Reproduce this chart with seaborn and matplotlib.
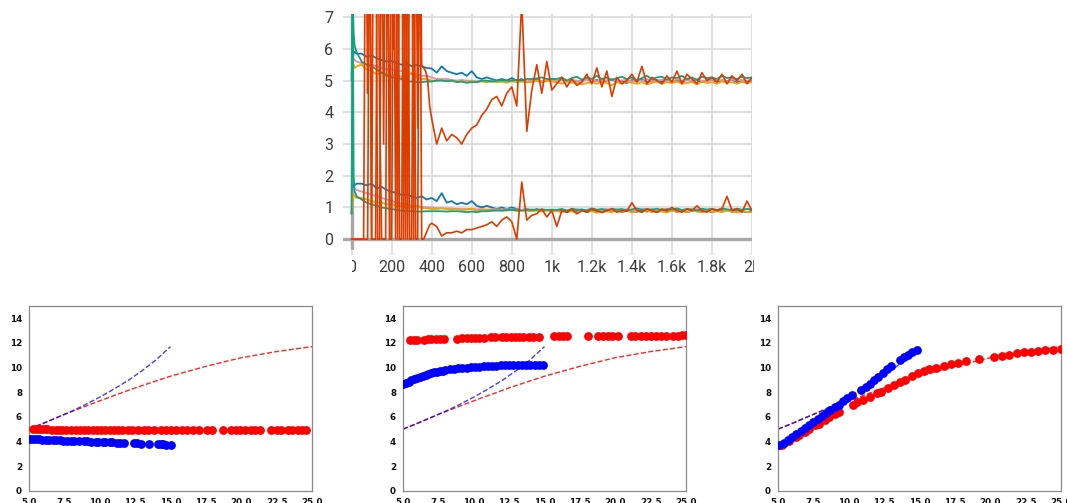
import matplotlib
matplotlib.use("Agg")
import matplotlib.pyplot as plt
import seaborn as sns
from matplotlib.transforms import Bbox, blended_transform_factory

# ---------------- top chart data (training curves) ----------------
steps_main = [0, 5, 10, 15] + list(range(25, 2001, 25))
steps_red = list(range(0, 401, 10)) + list(range(425, 2001, 25))

blue_up = [5.2, 5.6, 5.9, 5.9,
           5.85, 5.85, 5.75, 5.8, 5.7, 5.65, 5.6, 5.62, 5.55, 5.5, 5.55, 5.45, 5.5, 5.45, 5.4, 5.38,
           5.25, 5.45, 5.3, 5.25, 5.2, 5.25, 5.15, 5.3, 5.1, 5.05, 5.1, 5.05, 5.0, 5.05, 5.0, 5.08,
           5.0, 5.05, 4.95, 5.0, 5.05, 4.95, 5.0, 5.05,
           4.95, 5.05, 4.98, 5.02, 4.93, 5.0, 5.05, 4.97, 5.02, 4.95, 5.0, 5.04, 4.96, 5.0, 4.92, 5.02,
           4.98, 5.05, 4.95, 5.0, 5.02, 4.96, 5.03, 4.98, 5.0, 4.94, 5.05, 4.97, 5.02, 4.95, 5.0, 5.03,
           4.96, 5.0, 4.98, 5.04, 4.95, 5.02, 4.97, 5.0]
pink_up = [4.8, 5.5, 5.7, 5.65,
           5.6, 5.55, 5.5, 5.5, 5.45, 5.4, 5.35, 5.35, 5.3, 5.3, 5.25, 5.2, 5.2, 5.15, 5.15, 5.1,
           5.05, 5.05, 5.05, 5.02, 5.0, 5.02, 5.0, 5.0, 4.98, 5.0, 4.98, 5.0, 4.98, 5.0, 4.98, 5.0,
           4.98, 5.0, 4.97, 5.0, 5.0, 4.98, 5.0, 5.0,
           5.0, 5.03, 4.98, 5.02, 5.0, 4.97, 5.04, 5.0, 4.98, 5.02, 5.0, 5.05, 4.98, 5.0, 5.03, 4.97,
           5.02, 5.0, 5.05, 4.98, 5.0, 5.03, 5.0, 4.97, 5.04, 5.0, 5.02, 4.98, 5.05, 5.0, 4.98, 5.03,
           5.0, 5.02, 4.97, 5.04, 5.0, 5.02, 5.0, 5.03]
orange_up = [5.0, 5.3, 5.5, 5.4,
             5.45, 5.5, 5.35, 5.3, 5.2, 5.25, 5.2, 5.15, 5.2, 5.1, 5.15, 5.25, 5.1, 5.05, 5.05, 5.0,
             5.0, 5.02, 4.98, 5.0, 4.97, 4.98, 4.95, 4.98, 4.95, 4.97, 4.95, 4.97, 4.95, 4.97, 4.93, 4.98,
             4.95, 4.97, 4.95, 4.95, 5.0, 4.95, 5.0, 4.97,
             4.95, 4.9, 4.97, 4.93, 4.95, 4.88, 4.92, 4.95, 4.9, 4.97, 4.92, 4.85, 4.95, 4.9, 4.97, 4.93,
             4.9, 4.95, 4.88, 4.93, 4.97, 4.9, 4.95, 4.92, 4.97, 4.9, 4.93, 4.95, 4.88, 4.97, 4.92, 4.95,
             4.9, 4.97, 4.93, 4.95, 4.9, 4.96, 4.92, 4.95]
green_up = [5.0, 7.6, 6.5, 6.1,
            5.9, 5.6, 5.5, 5.45, 5.35, 5.25, 5.15, 5.1, 5.08, 5.05, 4.97, 4.97, 4.95, 4.95, 4.97, 4.97,
            5.0, 5.0, 4.98, 5.0, 4.95, 4.97, 4.93, 4.95, 4.95, 5.0, 5.0, 4.97, 5.0, 5.0, 5.0, 5.0,
            5.02, 5.0, 5.05, 5.05, 5.07, 5.1, 5.05, 5.05,
            5.05, 5.1, 5.0, 5.08, 5.12, 5.03, 5.1, 5.05, 5.15, 5.05, 5.1, 5.02, 5.08, 5.12, 5.05, 5.1,
            5.0, 5.08, 5.15, 5.05, 5.1, 5.12, 5.03, 5.1, 5.08, 5.15, 5.05, 5.1, 5.02, 5.12, 5.08, 5.1,
            5.05, 5.15, 5.08, 5.1, 5.05, 5.12, 5.08, 5.1]
red_up = [0, 0, 0, 0, 0, 0, 0,
          12, 4.6, 12, 0, 12, 12, 0, 0, 12, 3.0, 12, 12, 0, 12, 6.0, 12, 0, 12, 12, 0,
          12, 0, 12, 12, 0, 12, 3.5, 12, 5.5, 5.4, 5.3, 5.0, 4.2, 3.8,
          3.0, 3.5, 3.1, 3.3, 3.2, 3.0, 3.3, 3.5, 3.6, 3.9, 4.1, 4.4, 4.5, 4.2, 4.6, 4.8,
          4.2, 7.5, 3.4, 4.7, 5.5, 4.6, 5.6, 4.7,
          4.9, 5.1, 4.8, 5.05, 4.85, 4.95, 5.2, 4.9, 5.4, 4.8, 5.3, 4.5, 5.1, 4.9, 5.0, 5.2,
          4.95, 5.45, 4.9, 5.1, 5.0, 4.9, 5.15, 4.95, 5.3, 4.9, 5.2, 5.05, 4.9, 5.25, 5.0, 5.1,
          4.95, 5.2, 4.9, 5.15, 5.0, 5.2, 4.9, 5.1]

blue_lo = [0.8, 1.5, 1.75, 1.7,
           1.75, 1.75, 1.7, 1.75, 1.6, 1.65, 1.55, 1.5, 1.45, 1.4, 1.4, 1.35, 1.3, 1.35, 1.25, 1.3,
           1.2, 1.45, 1.15, 1.2, 1.1, 1.15, 1.1, 1.2, 1.05, 1.0, 1.05, 1.0, 0.95, 1.0, 0.95, 1.0,
           0.95, 0.92, 0.95, 0.9, 0.95, 0.9, 0.92, 0.9,
           0.88, 0.92, 0.85, 0.9, 0.87, 0.93, 0.85, 0.9, 0.88, 0.84, 0.9, 0.87, 0.92, 0.85, 0.9, 0.88,
           0.86, 0.92, 0.87, 0.9, 0.85, 0.9, 0.88, 0.92, 0.86, 0.9, 0.85, 0.89, 0.92, 0.87, 0.9, 0.85,
           0.9, 0.88, 0.92, 0.86, 0.9, 0.88, 0.85, 0.9]
pink_lo = [0.8, 1.4, 1.6, 1.6,
           1.55, 1.5, 1.45, 1.4, 1.35, 1.3, 1.25, 1.2, 1.15, 1.12, 1.1, 1.05, 1.05, 1.02, 1.0, 1.0,
           0.98, 0.98, 0.97, 0.97, 0.95, 0.95, 0.95, 0.96, 0.94, 0.95, 0.93, 0.95, 0.94, 0.93, 0.95, 0.93,
           0.94, 0.92, 0.94, 0.93, 0.92, 0.94, 0.93, 0.92,
           0.92, 0.95, 0.9, 0.93, 0.95, 0.9, 0.93, 0.96, 0.91, 0.93, 0.95, 0.9, 0.94, 0.92, 0.95, 0.9,
           0.93, 0.96, 0.92, 0.94, 0.9, 0.95, 0.92, 0.93, 0.96, 0.9, 0.94, 0.92, 0.95, 0.91, 0.93, 0.96,
           0.92, 0.94, 0.9, 0.95, 0.93, 0.92, 0.95, 0.93]
orange_lo = [0.8, 1.2, 1.4, 1.35,
             1.3, 1.3, 1.25, 1.2, 1.15, 1.15, 1.1, 1.1, 1.05, 1.05, 1.0, 1.0, 1.05, 0.98, 0.97, 0.95,
             0.95, 0.97, 0.95, 0.93, 0.95, 0.92, 0.93, 0.95, 0.9, 0.92, 0.93, 0.9, 0.92, 0.9, 0.9, 0.92,
             0.88, 0.9, 0.9, 0.88, 0.9, 0.87, 0.9, 0.88,
             0.88, 0.85, 0.9, 0.87, 0.84, 0.9, 0.86, 0.88, 0.83, 0.9, 0.87, 0.85, 0.89, 0.86, 0.9, 0.84,
             0.88, 0.86, 0.9, 0.85, 0.88, 0.87, 0.84, 0.9, 0.86, 0.88, 0.85, 0.9, 0.87, 0.84, 0.89, 0.86,
             0.88, 0.85, 0.9, 0.87, 0.84, 0.88, 0.86, 0.85]
green_lo = [0.8, 7.6, 2.0, 1.5,
            1.35, 1.25, 1.15, 1.1, 1.05, 1.0, 0.97, 0.95, 0.92, 0.9, 0.88, 0.88, 0.87, 0.87, 0.88, 0.88,
            0.88, 0.88, 0.87, 0.88, 0.88, 0.87, 0.85, 0.87, 0.85, 0.88, 0.88, 0.9, 0.9, 0.9, 0.92, 0.92,
            0.92, 0.9, 0.92, 0.93, 0.92, 0.93, 0.92, 0.93,
            0.92, 0.95, 0.9, 0.96, 0.92, 0.94, 0.9, 0.97, 0.93, 0.95, 0.91, 0.96, 0.93, 0.95, 0.9, 0.94,
            0.97, 0.92, 0.95, 0.93, 0.96, 0.91, 0.95, 0.93, 0.97, 0.92, 0.95, 0.94, 0.9, 0.96, 0.93, 0.95,
            0.92, 0.97, 0.94, 0.92, 0.96, 0.93, 0.95, 0.94]
red_lo = [0, 0, 0, 0, 0, 0, 0, 0, 0,
          12, 0, 0, 0, 12, 4.2, 0, 0, 0, 12, 0, 0, 12, 0, 12, 0, 0, 12, 0, 12,
          0, 0, 12, 0, 0, 12, 0, 0, 0.15, 0.3, 0.45, 0.5,
          0.4, 0.1, 0.2, 0.2, 0.25, 0.2, 0.3, 0.3, 0.35, 0.4, 0.45, 0.55, 0.4, 0.6, 0.7, 0.55,
          0.0, 1.8, 0.6, 0.75, 0.8, 0.95, 0.7, 0.9,
          0.4, 0.9, 0.85, 0.95, 0.8, 0.9, 0.85, 0.95, 0.9, 0.85, 0.9, 0.95, 0.85, 0.9, 0.88, 1.15,
          0.9, 0.85, 0.95, 0.9, 0.85, 0.95, 0.9, 1.0, 0.9, 0.85, 0.95, 0.9, 1.05, 0.9, 0.85, 0.95,
          0.9, 0.95, 1.35, 0.9, 0.95, 0.85, 1.2, 0.9]

top_yticks = [0, 1, 2, 3, 4, 5, 6, 7]
top_xticks = [0, 200, 400, 600, 800, 1000, 1200, 1400, 1600, 1800, 2000]
top_xlabels = ["0", "200", "400", "600", "800", "1k", "1.2k", "1.4k", "1.6k", "1.8k", "2k"]

# ---------------- bottom panels data ----------------
curve_blue_x = [5, 6, 7, 8, 9, 10, 11, 12, 13, 14, 15]
curve_blue_y = [5.0, 5.45, 5.95, 6.45, 7.0, 7.6, 8.25, 8.95, 9.75, 10.65, 11.7]
curve_red_x = [5, 7.5, 10, 12.5, 15, 17.5, 20, 22.5, 25]
curve_red_y = [5.0, 6.2, 7.3, 8.35, 9.3, 10.1, 10.8, 11.3, 11.7]

p1_red_x = [5.3, 5.5, 5.7, 5.9, 6.1, 6.3, 6.6, 6.9, 7.1, 7.3, 7.6, 8.0, 8.3, 8.6, 8.9, 9.2, 9.5, 9.8,
            10.1, 10.4, 10.7, 11.0, 11.3, 11.6, 12.0, 12.3, 12.7, 13.1, 13.4, 13.8, 14.3, 14.7, 15.0,
            15.4, 15.8, 16.2, 16.6, 17.0, 17.6, 17.9, 18.7, 19.3, 19.6, 19.9, 20.3, 20.7, 21.0, 21.3,
            22.1, 22.5, 22.8, 23.3, 23.6, 24.0, 24.3, 24.6]
p1_red_y = [5.05, 5.05, 5.05, 5.0, 5.0, 5.0, 4.95, 4.95, 4.95, 4.95, 4.92, 4.9, 4.9, 4.9, 4.9, 4.9,
            4.9, 4.9, 4.9, 4.9, 4.9, 4.9, 4.9, 4.9, 4.9, 4.9, 4.9, 4.9, 4.9, 4.9, 4.9, 4.9, 4.9,
            4.9, 4.9, 4.9, 4.9, 4.9, 4.9, 4.9, 4.9, 4.9, 4.9, 4.9, 4.9, 4.9, 4.9, 4.9,
            4.9, 4.9, 4.9, 4.9, 4.9, 4.9, 4.9, 4.9]
p1_blue_x = [5.1, 5.3, 5.5, 5.7, 5.9, 6.2, 6.4, 6.7, 6.9, 7.2, 7.4, 7.7, 8.0, 8.2, 8.5, 8.9, 9.1,
             9.4, 9.7, 9.9, 10.2, 10.4, 10.7, 10.9, 11.2, 11.4, 11.7, 12.4, 12.6, 12.9, 13.5, 14.1,
             14.3, 14.5, 14.7, 15.0]
p1_blue_y = [4.2, 4.2, 4.2, 4.18, 4.15, 4.12, 4.12, 4.1, 4.1, 4.08, 4.07, 4.05, 4.05, 4.03, 4.02,
             4.0, 4.0, 3.98, 3.97, 3.96, 3.95, 3.94, 3.92, 3.92, 3.9, 3.9, 3.88, 3.85, 3.85, 3.83,
             3.8, 3.78, 3.77, 3.76, 3.75, 3.75]

p2_red_x = [5.5, 5.8, 6.0, 6.5, 6.8, 7.0, 7.3, 7.6, 7.9, 8.8, 9.2, 9.5, 9.8, 10.1, 10.4, 10.7, 11.2,
            11.5, 12.0, 12.3, 12.6, 12.9, 13.2, 13.5, 13.9, 14.2, 14.6, 15.7, 16.0, 16.3, 16.6, 18.1,
            18.8, 19.1, 19.5, 19.8, 20.2, 21.1, 21.4, 21.8, 22.2, 22.5, 22.9, 23.2, 23.6, 24.1, 24.4,
            24.7, 25.0]
p2_red_y = [12.25, 12.25, 12.25, 12.25, 12.28, 12.3, 12.3, 12.32, 12.32, 12.35, 12.38, 12.38, 12.4,
            12.4, 12.42, 12.42, 12.45, 12.45, 12.45, 12.45, 12.48, 12.48, 12.5, 12.5, 12.5, 12.52,
            12.52, 12.55, 12.55, 12.55, 12.55, 12.55, 12.55, 12.55, 12.57, 12.57, 12.57, 12.57,
            12.58, 12.58, 12.58, 12.58, 12.6, 12.6, 12.6, 12.6, 12.6, 12.62, 12.62]
p2_blue_x = [5.0, 5.2, 5.4, 5.6, 5.8, 6.0, 6.2, 6.4, 6.6, 6.8, 7.0, 7.2, 7.4, 7.6, 7.8, 8.0, 8.3,
             8.6, 8.9, 9.2, 9.5, 9.8, 10.1, 10.4, 10.7, 11.0, 11.3, 11.6, 11.9, 12.2, 12.5, 12.8,
             13.1, 13.4, 13.7, 14.0, 14.3, 14.6, 14.9]
p2_blue_y = [8.65, 8.75, 8.85, 8.95, 9.05, 9.15, 9.25, 9.33, 9.4, 9.48, 9.55, 9.6, 9.66, 9.72, 9.76,
             9.8, 9.86, 9.9, 9.95, 9.98, 10.0, 10.03, 10.06, 10.08, 10.1, 10.12, 10.14, 10.16, 10.17,
             10.18, 10.19, 10.2, 10.2, 10.2, 10.2, 10.2, 10.2, 10.2, 10.2]

p3_blue_x = [5.1, 5.4, 5.7, 6.0, 6.3, 6.6, 6.9, 7.2, 7.5, 7.8, 8.1, 8.4, 8.7, 9.0, 9.3, 9.6, 9.9,
             10.2, 10.9, 11.2, 11.5, 11.8, 12.1, 12.4, 12.7, 13.0, 13.6, 13.9, 14.2, 14.5, 14.8]
p3_blue_y = [3.7, 3.9, 4.1, 4.35, 4.6, 4.85, 5.1, 5.35, 5.6, 5.85, 6.1, 6.3, 6.55, 6.8, 7.0, 7.25,
             7.5, 7.75, 8.2, 8.45, 8.7, 8.95, 9.25, 9.55, 9.85, 10.15, 10.6, 10.85, 11.05, 11.25, 11.45]
p3_red_x = [5.3, 5.8, 6.3, 6.5, 6.9, 7.2, 7.6, 7.9, 8.3, 8.6, 9.0, 9.3, 10.3, 10.6, 11.0, 11.5,
            12.0, 12.3, 12.8, 13.2, 13.6, 14.0, 14.5, 14.9, 15.3, 15.7, 16.2, 16.7, 17.2, 17.7, 18.3,
            19.2, 20.3, 20.8, 21.3, 21.9, 22.4, 22.9, 23.4, 23.9, 24.4, 25.0]
p3_red_y = [3.7, 4.0, 4.35, 4.5, 4.8, 5.0, 5.3, 5.45, 5.75, 5.95, 6.2, 6.4, 7.0, 7.2, 7.4, 7.65,
            7.9, 8.05, 8.35, 8.6, 8.8, 9.0, 9.3, 9.55, 9.7, 9.85, 10.0, 10.15, 10.3, 10.4, 10.55,
            10.7, 10.85, 10.95, 11.05, 11.15, 11.25, 11.3, 11.35, 11.4, 11.45, 11.5]

bottom_xticks = [5.0, 7.5, 10.0, 12.5, 15.0, 17.5, 20.0, 22.5, 25.0]
bottom_yticks = [0, 2, 4, 6, 8, 10, 12, 14]

# ---------------- drawing ----------------
sns.set_theme(style="white")
plt.rcParams["font.family"] = ["Roboto", "DejaVu Sans"]

W, H = 1067, 503
fig = plt.figure(figsize=(W / 100, H / 100), dpi=100)

C_BLUE, C_PINK, C_ORANGE, C_GREEN, C_RED = "#1177bb", "#e58bbd", "#f2a400", "#13a37e", "#dd3c00"

ax = fig.add_axes([343 / W, (H - 255) / H, (752 - 343) / W, (255 - 14) / H])
series = [
    (steps_main, blue_up, C_BLUE, 1.3), (steps_main, blue_lo, C_BLUE, 1.3),
    (steps_main, pink_up, C_PINK, 1.3), (steps_main, pink_lo, C_PINK, 1.3),
    (steps_main, orange_up, C_ORANGE, 1.3), (steps_main, orange_lo, C_ORANGE, 1.3),
    (steps_main, green_up, C_GREEN, 1.3), (steps_main, green_lo, C_GREEN, 1.3),
    (steps_red, red_up, C_RED, 1.2), (steps_red, red_lo, C_RED, 1.2),
]
for xs, ys, c, lw in series:
    sns.lineplot(x=xs, y=ys, color=c, linewidth=lw, ax=ax, legend=False,
                 estimator=None, sort=False, zorder=3)

ax.set_xlim(-43, 2000)
ax.set_ylim(-0.5, 7.1)
ax.set_yticks(top_yticks)
ax.set_xticks(top_xticks)
ax.set_xticklabels([])
ax.grid(True, color="#dadada", linewidth=1.2)
ax.set_axisbelow(True)
for sp in ax.spines.values():
    sp.set_visible(False)
ax.tick_params(axis="both", length=0)
ax.tick_params(axis="y", pad=7, labelsize=11.5, labelcolor="#3c3c3c")
ax.axhline(0, color="#a8a8a8", linewidth=2.4, zorder=2)
ax.axvline(0, ymin=0.03, ymax=1, color="#a8a8a8", linewidth=2.4, zorder=2)

clip = Bbox.from_extents(352, 0, 754, H)
tr = blended_transform_factory(ax.transData, fig.transFigure)
for xv, lab in zip(top_xticks, top_xlabels):
    t = fig.text(xv, (H - 267) / H, lab, transform=tr, ha="center", va="center",
                 fontsize=11.5, color="#3c3c3c")
    t.set_clip_box(clip)
    t.set_clip_on(True)

# bottom panels
panels = [
    (29, p1_red_x, p1_red_y, p1_blue_x, p1_blue_y),
    (403, p2_red_x, p2_red_y, p2_blue_x, p2_blue_y),
    (778, p3_red_x, p3_red_y, p3_blue_x, p3_blue_y),
]
for left, rx, ry, bx, by in panels:
    a = fig.add_axes([left / W, (H - 490.7) / H, 283 / W, 184.7 / H])
    sns.lineplot(x=curve_red_x, y=curve_red_y, color="red", linestyle="--", linewidth=1.0,
                 alpha=0.85, ax=a, legend=False, estimator=None, sort=False)
    sns.lineplot(x=curve_blue_x, y=curve_blue_y, color="blue", linestyle="--", linewidth=1.0,
                 alpha=0.75, ax=a, legend=False, estimator=None, sort=False)
    sns.scatterplot(x=rx, y=ry, color="red", s=40, linewidth=0, ax=a, legend=False, zorder=3)
    sns.scatterplot(x=bx, y=by, color="blue", s=40, linewidth=0, ax=a, legend=False, zorder=3)
    a.set_xlim(5, 25)
    a.set_ylim(0, 15)
    a.set_xticks(bottom_xticks)
    a.set_xticklabels([f"{v:.1f}" for v in bottom_xticks])
    a.set_yticks(bottom_yticks)
    a.set_yticklabels([str(v) for v in bottom_yticks])
    a.tick_params(axis="both", labelsize=6.3, length=3, width=0.8, color="#555555", pad=2,
                  labelcolor="#111111", direction="out")
    for lab in a.get_xticklabels() + a.get_yticklabels():
        lab.set_fontweight("bold")
        lab.set_fontfamily("DejaVu Sans")
    for sp in a.spines.values():
        sp.set_color("#8a8a8a")
        sp.set_linewidth(0.9)
    a.set_facecolor("white")
    a.grid(False)

fig.savefig("out.png", dpi=100, facecolor="white")
